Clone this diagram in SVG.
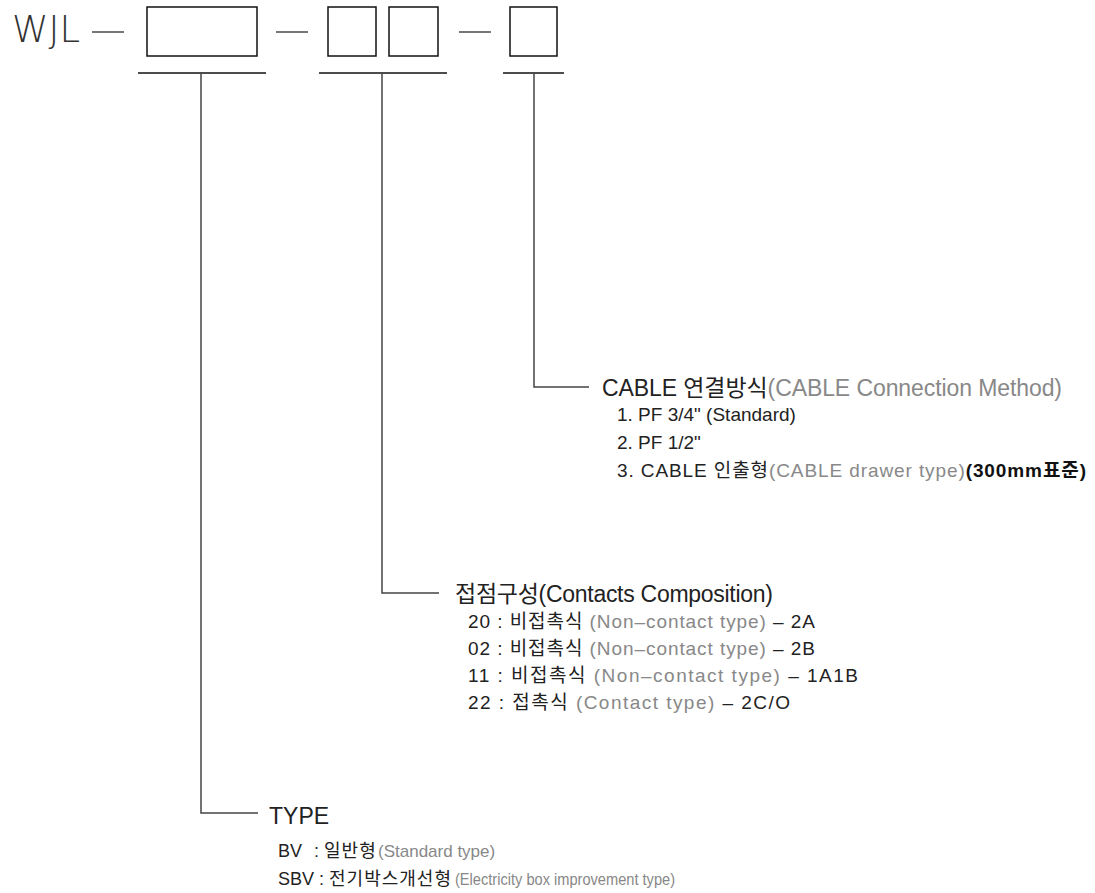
<svg xmlns="http://www.w3.org/2000/svg" width="1095" height="893" viewBox="0 0 1095 893">
<style>
.t{font-family:"Liberation Sans","Noto Sans CJK KR",sans-serif;fill:#222}
.k{font-family:"Noto Sans CJK KR",sans-serif}
.ks{font-family:"Noto Sans CJK KR",sans-serif;letter-spacing:1px}
.g{fill:#888}
.b{font-weight:bold;fill:#111}
.title{font-size:23px}
.item{font-size:19px}
.box{fill:none;stroke:#111;stroke-width:1.5}
.dash{stroke:#777;stroke-width:2}
.ul{stroke:#111;stroke-width:1.5}
.conn{fill:none;stroke:#444;stroke-width:1.5}
</style>
<rect width="1095" height="893" fill="#fff"/>
<g id="header">
<text x="12" y="42" font-family="'DejaVu Sans', 'Liberation Sans', sans-serif" font-weight="200" font-size="37" textLength="68" lengthAdjust="spacingAndGlyphs" fill="#333">WJL</text>
<line class="dash" x1="92" y1="32" x2="124" y2="32"/>
<rect class="box" x="147" y="7" width="110" height="49"/>
<line class="dash" x1="276" y1="32" x2="308" y2="32"/>
<rect class="box" x="328" y="7" width="48" height="49"/>
<rect class="box" x="389" y="7" width="49" height="49"/>
<line class="dash" x1="459" y1="32" x2="491" y2="32"/>
<rect class="box" x="510" y="7" width="47" height="49"/>
<line class="ul" x1="138" y1="73" x2="266" y2="73"/>
<line class="ul" x1="319" y1="73" x2="447" y2="73"/>
<line class="ul" x1="503" y1="73" x2="564" y2="73"/>
</g>
<g id="connectors">
<polyline class="conn" points="201,73 201,813 258,813"/>
<polyline class="conn" points="382,73 382,593 439,593"/>
<polyline class="conn" points="534,73 534,387 589,387"/>
</g>
<g id="cable">
<text class="t title" x="602" y="396" textLength="460" lengthAdjust="spacing">CABLE <tspan class="k">연결방식</tspan><tspan class="g">(CABLE  Connection  Method)</tspan></text>
<text class="t item" x="617" y="421">1. PF 3/4" (Standard)</text>
<text class="t item" x="617" y="449">2. PF 1/2"</text>
<text class="t item" x="617" y="477" textLength="469" lengthAdjust="spacing">3. CABLE <tspan class="k">인출형</tspan><tspan class="g">(CABLE drawer type)</tspan><tspan class="b">(300mm<tspan class="k">표준</tspan>)</tspan></text>
</g>
<g id="contacts">
<text class="t title" x="455" y="602" textLength="318" lengthAdjust="spacing"><tspan class="k">접점구성</tspan>(Contacts  Composition)</text>
<text class="t item" x="468" y="628" textLength="347" lengthAdjust="spacing">20 : <tspan class="k">비접촉식</tspan> <tspan class="g">(Non–contact type)</tspan> – 2A</text>
<text class="t item" x="468" y="655" textLength="347" lengthAdjust="spacing">02 : <tspan class="k">비접촉식</tspan> <tspan class="g">(Non–contact type)</tspan> – 2B</text>
<text class="t item" x="468" y="682" textLength="390" lengthAdjust="spacing">11 : <tspan class="k">비접촉식</tspan> <tspan class="g">(Non–contact type)</tspan> – 1A1B</text>
<text class="t item" x="468" y="709" textLength="322" lengthAdjust="spacing">22 : <tspan class="k">접촉식</tspan> <tspan class="g">(Contact type)</tspan> – 2C/O</text>
</g>
<g id="type">
<text class="t title" x="269" y="824" font-size="24">TYPE</text>
<text class="t" x="278" y="857" font-size="18">BV</text>
<text class="t" x="314" y="857" font-size="18">: <tspan class="ks">일반형</tspan></text>
<text class="t g" x="378" y="857" font-size="17">(Standard type)</text>
<text class="t" x="278" y="885" font-size="18">SBV : <tspan class="ks">전기박스개선형</tspan></text>
<text class="t g" x="455" y="885" font-size="17" textLength="220" lengthAdjust="spacingAndGlyphs">(Electricity box improvement type)</text>
</g>
</svg>
